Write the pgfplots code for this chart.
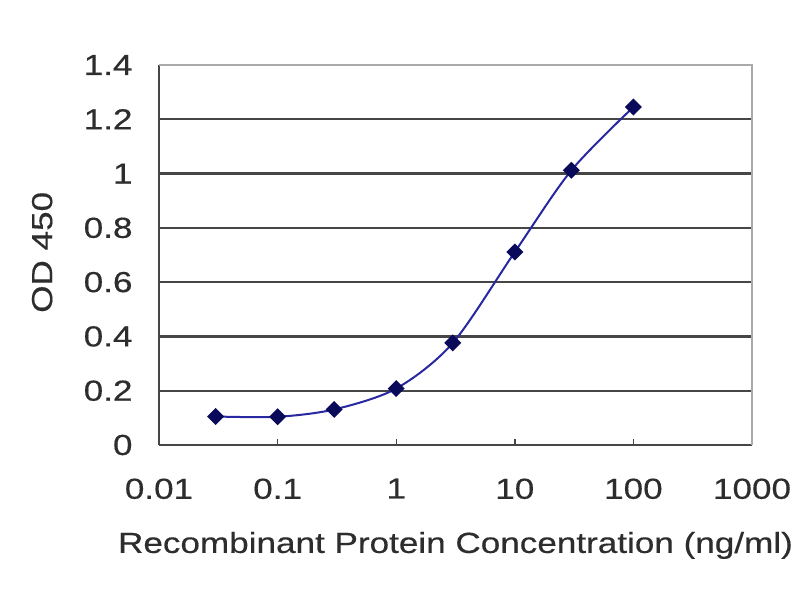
\documentclass[border=0pt]{standalone}
\usepackage{fontspec}
\usepackage{pgfplots}
\pgfplotsset{compat=1.18}
\newfontfamily\chartfont{Liberation Sans}[FakeStretch=1.21, FakeBold=0.4]
\definecolor{spine}{RGB}{70,70,70}
\definecolor{gridc}{RGB}{70,70,70}
\definecolor{lightb}{RGB}{170,170,170}
\definecolor{navyline}{RGB}{40,40,160}
\definecolor{navymark}{RGB}{10,10,90}
\definecolor{txt}{RGB}{45,45,45}
\pgfplotstableread{
x y
0.03 0.105
0.1 0.104
0.3 0.131
1 0.208
3 0.376
10 0.711
30 1.012
100 1.245
}\datatable
\begin{document}
\begin{tikzpicture}
\path[use as bounding box, fill=white] (0,0) rectangle (800bp,600bp);
\begin{axis}[
  at={(159bp,155bp)}, anchor=south west,
  scale only axis, width=593bp, height=380bp,
  xmode=log, xmin=0.01, xmax=1000, ymin=0, ymax=1.4,
  axis lines=left, axis line style={-, draw=spine, line width=2bp},
  xtick={0.1,1,10,100}, xticklabels={0.1,1,10,100},
  extra x ticks={0.01,1000}, extra x tick labels={0.01,1000},
  extra x tick style={major tick length=0pt},
  xminorticks=false,
  x tick style={draw=spine, line width=1.4bp},
  tick align=inside, major tick length=6bp,
  ytick={0,0.2,0.4,0.6,0.8,1,1.2,1.4}, yticklabels={0,0.2,0.4,0.6,0.8,1,1.2,1.4},
  y tick style={draw=none},
  ymajorgrids, major grid style={draw=gridc, line width=2.2bp},
  clip=false,
  every tick label/.append style={font=\chartfont\fontsize{29bp}{32bp}\selectfont, text=txt},
  xticklabel style={yshift=-30bp},
  yticklabel style={xshift=-23bp},
  xlabel={Recombinant Protein Concentration (ng/ml)},
  ylabel={OD 450},
  xlabel style={font=\chartfont\fontsize{29bp}{32bp}\selectfont, text=txt, anchor=base, at={(axis description cs:0.5,-0.284)}},
  ylabel style={font=\chartfont\fontsize{29bp}{32bp}\selectfont, text=txt, anchor=center, at={(axis description cs:-0.197,0.507)}},
]
% top border and right border (light)
\addplot[draw=lightb, line width=2.2bp, forget plot] coordinates {(0.01,1.4) (1000,1.4) (1000,0)};
\addplot[navyline, line width=2bp, smooth, mark=square*, mark size=5bp,
  mark options={fill=navymark, draw=navymark, rotate=45}] table[x=x,y=y] {\datatable};
\end{axis}
\end{tikzpicture}
\end{document}
